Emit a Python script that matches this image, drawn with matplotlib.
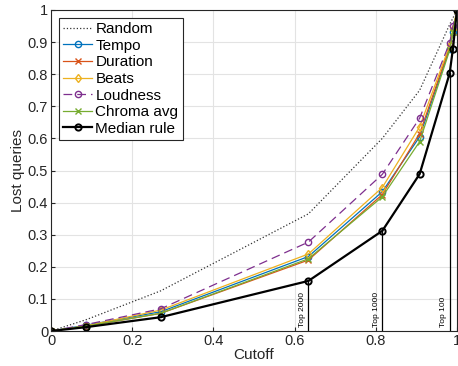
import matplotlib
matplotlib.use("Agg")
import matplotlib.pyplot as plt

plt.rcParams['font.family'] = ['Liberation Sans', 'DejaVu Sans']

cutoff = [0, 0.086, 0.27, 0.634, 0.816, 0.908, 0.982, 0.99, 1.0]
random_v = [0, 0.035, 0.125, 0.365, 0.6, 0.75, 0.955, 0.975, 1]
tempo = [0, 0.018, 0.06, 0.232, 0.434, 0.605, 0.88, 0.93, 1]
duration = [0, 0.015, 0.055, 0.221, 0.425, 0.615, 0.885, 0.93, 1]
beats = [0, 0.016, 0.065, 0.24, 0.447, 0.636, 0.89, 0.94, 1]
loudness = [0, 0.02, 0.069, 0.277, 0.488, 0.663, 0.898, 0.95, 1]
chroma = [0, 0.015, 0.055, 0.225, 0.418, 0.59, 0.875, 0.93, 1]
median = [0, 0.012, 0.043, 0.156, 0.312, 0.489, 0.803, 0.88, 1]

top_labels = ["Top 2000", "Top 1000", "Top 100"]
top_x = [0.634, 0.816, 0.982]
top_y = [0.156, 0.312, 0.803]

fig = plt.figure(figsize=(4.58, 3.66), dpi=100)
ax = fig.add_axes([0.1114, 0.0956, 0.8864, 0.8771])

ax.plot(cutoff, random_v, ':', color='#333333', lw=0.9, label='Random')
ax.plot(cutoff, tempo, '-', color=(0, 0.447, 0.741), lw=0.9, marker='o', ms=4.5, mfc='none', label='Tempo')
ax.plot(cutoff, duration, '-', color=(0.85, 0.325, 0.098), lw=0.9, marker='x', ms=4.5, label='Duration')
ax.plot(cutoff, beats, '-', color=(0.929, 0.694, 0.125), lw=0.9, marker='d', ms=4.5, mfc='none', label='Beats')
ax.plot(cutoff, loudness, '--', color=(0.494, 0.184, 0.556), lw=0.9, marker='o', ms=4.5, mfc='none', dashes=(7, 4), label='Loudness')
ax.plot(cutoff, chroma, '-', color=(0.466, 0.674, 0.188), lw=0.9, marker='x', ms=4.5, label='Chroma avg')
ax.plot(cutoff, median, '-', color='black', lw=1.6, marker='o', ms=4.5, mfc='none', mew=1.4, label='Median rule')

for lab, xv, yv in zip(top_labels, top_x, top_y):
    ax.plot([xv, xv], [0, yv], color='black', lw=0.9)
    ax.text(xv - 0.006, 0.012, lab, rotation=90, ha='right', va='bottom', fontsize=6)

ax.set_xlim(0, 1)
ax.set_ylim(0, 1)
ax.set_xticks([0, 0.2, 0.4, 0.6, 0.8, 1])
ax.set_xticklabels(['0', '0.2', '0.4', '0.6', '0.8', '1'])
ax.set_yticks([i / 10 for i in range(11)])
ax.set_yticklabels(['0'] + ['0.%d' % i for i in range(1, 10)] + ['1'])
ax.grid(True, color='#e3e3e3', lw=0.8)
ax.set_axisbelow(True)
ax.tick_params(direction='in', length=3, labelsize=10.5, color='#262626', labelcolor='#262626', pad=2)
for s in ax.spines.values():
    s.set_color('#262626')
    s.set_linewidth(0.8)
ax.set_xlabel('Cutoff', fontsize=11, labelpad=0, color='#262626')
ax.set_ylabel('Lost queries', fontsize=11, labelpad=2, color='#262626')

leg = ax.legend(loc='upper left', fontsize=11, frameon=True, fancybox=False,
                edgecolor='#262626', framealpha=1, handlelength=1.9,
                handletextpad=0.2, labelspacing=0.17, borderpad=0.3,
                borderaxespad=0.5)
leg.get_frame().set_linewidth(0.8)

fig.savefig('out.png', dpi=100)
